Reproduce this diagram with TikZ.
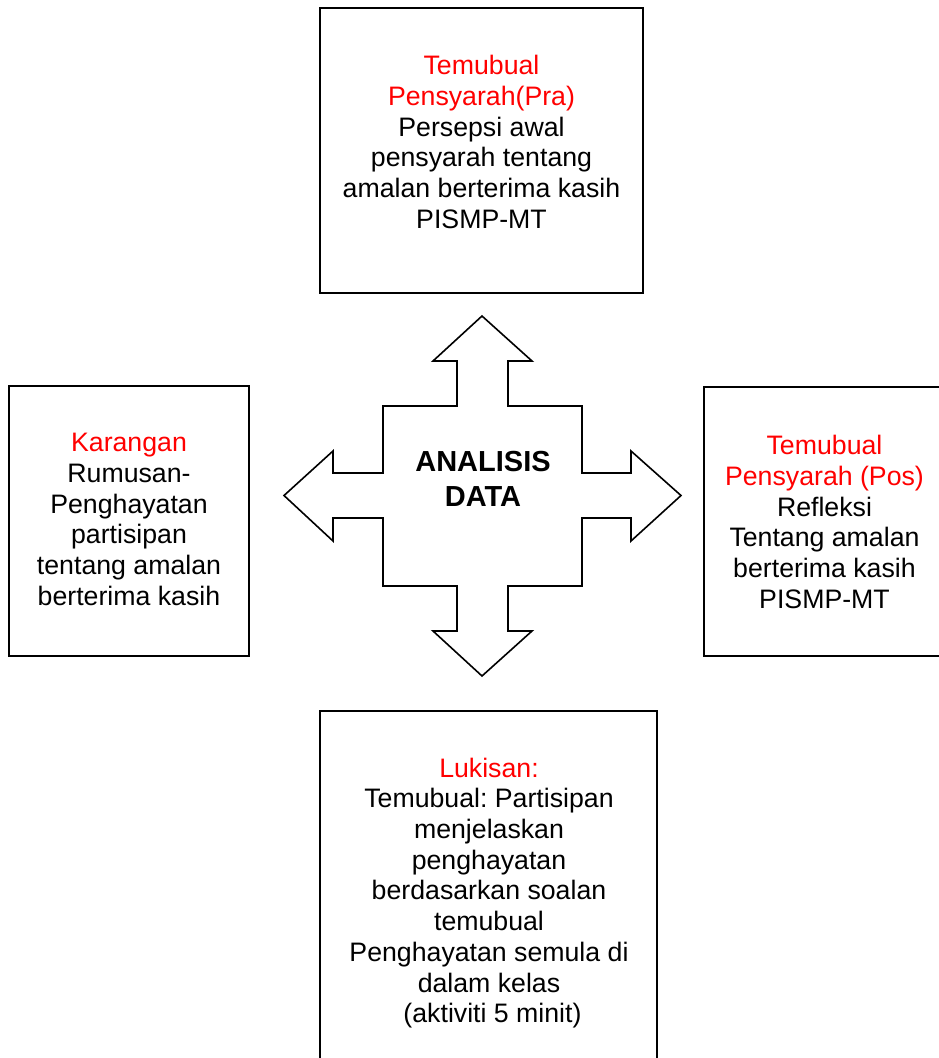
\documentclass[tikz,border=0pt]{standalone}
\usepackage{fontspec}
\setmainfont{Liberation Sans}
\frenchspacing
\tikzset{
  box/.style={draw, line width=1.6pt, inner sep=0pt},
  txt/.style={align=center, font=\fontsize{26.7}{30.7}\selectfont},
  lbl/.style={text=red}
}
\begin{document}
\begin{tikzpicture}[x=1pt,y=-1pt]
\useasboundingbox (0,0) rectangle (939,1058);
% the four boxes
\node [box, minimum width=323pt, minimum height=285pt] (pra) at (481.5,150.5) {};
\node [box, minimum width=240pt, minimum height=270pt] (karangan) at (129,521) {};
\node [box, minimum width=241pt, minimum height=269pt] (pos) at (824.5,521.5) {};
\node [box, minimum width=337pt, minimum height=361pt] (lukisan) at (488.5,891.5) {};
\node [txt] (pratext) at (481.5,142) {\textcolor{red}{Temubual}\\ \textcolor{red}{Pensyarah(Pra)}\\ Persepsi awal\\ pensyarah tentang\\ amalan berterima kasih\\ PISMP-MT};
\node [txt] (karangantext) at (129,519.5) {\textcolor{red}{Karangan}\\ Rumusan-\\ Penghayatan\\ partisipan\\ tentang amalan\\ berterima kasih};
\node [txt] (postext) at (824.5,522) {\textcolor{red}{Temubual}\\ \textcolor{red}{Pensyarah (Pos)}\\ Refleksi\\ Tentang amalan\\ berterima kasih\\ PISMP-MT};
\node [txt] (lukisantext) at (489,893) {\textcolor{red}{Lukisan:}\\ Temubual: Partisipan\\ menjelaskan\\ penghayatan\\ berdasarkan soalan\\ temubual\\ Penghayatan semula di\\ dalam kelas\\ \hspace*{7pt}(aktiviti 5 minit)};
% the cross of four arrows
\draw [line width=1.6pt, line join=miter] (482,316) -- (532,361) -- (508,361) -- (508,406) -- (582,406) -- (582,473) -- (631,473) -- (631,451) -- (681,495.5) -- (631,541) -- (631,518) -- (582,518) -- (582,586) -- (508,586) -- (508,631) -- (532,631) -- (482,676) -- (433,631) -- (457,631) -- (457,586) -- (383,586) -- (383,518) -- (333,518) -- (333,541) -- (284,495.5) -- (333,451) -- (333,473) -- (383,473) -- (383,406) -- (457,406) -- (457,361) -- (433,361) -- cycle;
\node [font=\fontsize{29}{35}\selectfont\bfseries, align=center] (analisis) at (483,479) {ANALISIS\\ DATA};
\end{tikzpicture}
\end{document}
